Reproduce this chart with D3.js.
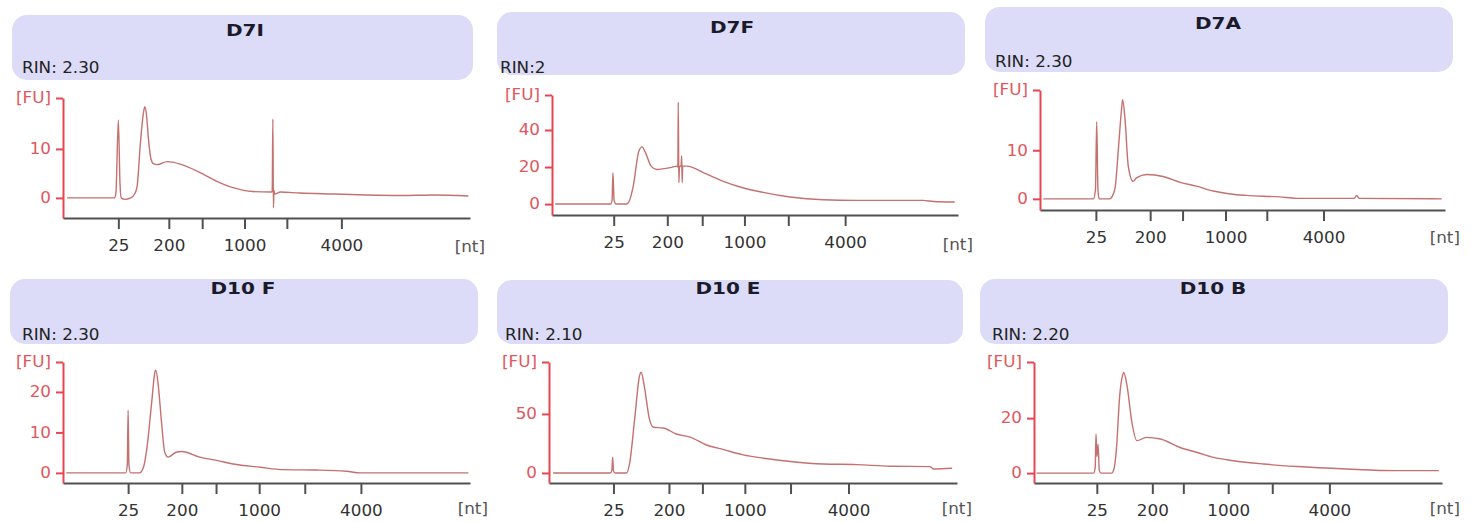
<!DOCTYPE html>
<html>
<head>
<meta charset="utf-8">
<script src="https://cdn.jsdelivr.net/npm/d3@7"></script>
<style>
  body { margin: 0; background: #fff; }
  svg { display: block; font-family: "DejaVu Sans", Verdana, sans-serif; }
</style>
</head>
<body>
<div id="chart"></div>
<script>
// sample names and RIN values
const sampleNames = ["D7I", "D7F", "D7A", "D10 F", "D10 E", "D10 B"];
const rinLabels = ["RIN: 2.30", "RIN:2", "RIN: 2.30", "RIN: 2.30", "RIN: 2.10", "RIN: 2.20"];

// ladder sizes (nt) and their labels on the x axis
const ladderSizes = [25, 200, 500, 1000, 2000, 4000];
const ladderLabels = ["25", "200", "", "1000", "", "4000"];

// migration time (s) of each ladder band, per sample (alignment differs a bit)
const ladderTimes = [
  [26.8, 33.0, 37.1, 42.3, 47.5, 54.2],
  [27.6, 34.2, 38.5, 43.7, 49.1, 56.1],
  [26.9, 33.6, 37.6, 42.9, 48.0, 55.0],
  [28.0, 34.6, 38.8, 44.1, 49.7, 56.6],
  [27.9, 34.7, 38.8, 44.0, 49.6, 56.7],
  [27.7, 34.5, 38.3, 43.8, 49.2, 56.2]
];

const timeRange = [20, 70];

// fluorescence axis: range and ticks per sample
const fuRange = [[-4.1, 20.4], [-5.9, 58.9], [-2.3, 22.4], [-2.5, 27.4], [-8.5, 94], [-3.6, 40.4]];
const fuTicks = [[0, 10], [0, 20, 40], [0, 10], [0, 10, 20], [0, 50], [0, 20]];

// electropherogram traces: [time (s), FU]
const traceD7I = [[20.5,0],[26.3,0],[26.5,1],[26.8,15.9],[27.0,3],[27.15,0],[27.6,-0.3],[28.3,0],[28.8,0.8],[29.1,2.3],[29.5,11],[29.85,17],[30.05,18.6],[30.25,17],[30.5,12],[30.8,8],[31.1,7],[31.6,6.8],[32.8,7.4],[34.4,6.9],[36.8,5.2],[38.9,3.4],[40.9,2.1],[43.3,1.3],[45.5,1.2],[45.7,1.3],[45.78,16.1],[45.85,-2],[45.92,1.5],[46.0,0.8],[46.7,1.2],[49.1,1.0],[53.2,0.8],[57.3,0.6],[61.4,0.5],[65.5,0.6],[69.8,0.4]];
const traceD7F = [[20.4,0],[27.2,0],[27.4,2],[27.5,16.9],[27.65,2],[27.9,0],[29.2,0],[29.5,1.5],[30.0,9.6],[30.7,28.7],[31.1,30.9],[31.5,27.9],[32.2,20.5],[32.9,18.7],[34.6,19.7],[35.4,20.5],[35.5,20],[35.55,55],[35.62,11.5],[35.7,20],[35.9,21],[35.97,26],[36.03,11.5],[36.1,20.5],[36.6,20.5],[38.7,16.9],[41.1,12.3],[43.6,8.7],[46.0,6.3],[49.3,3.8],[53.4,2.3],[57.5,2.0],[65.7,2.0],[67.0,1.4],[69.6,1.1]];
const traceD7A = [[20.4,0],[26.6,0],[26.85,2],[27.0,15.9],[27.15,2],[27.3,0],[28.6,0],[29.0,0.8],[29.3,2.6],[29.7,10.8],[30.1,19],[30.2,20.4],[30.5,16.3],[30.9,6.7],[31.5,3.6],[31.9,4.3],[33.2,5.0],[35.2,4.6],[37.3,3.4],[39.3,2.6],[41.4,1.6],[43.5,1.0],[45.5,0.7],[49.6,0.4],[51.7,0.1],[58.8,0.1],[59.1,0.7],[59.4,0.1],[69.6,0]];
const traceD10F = [[20.4,0],[27.7,0],[27.9,2],[28.0,15.5],[28.1,2],[28.3,0],[29.4,0],[29.9,1.5],[30.3,6],[30.9,17.5],[31.3,25],[31.4,25.4],[31.7,21.7],[32.1,12.6],[32.5,5.1],[32.9,3.9],[33.9,5.1],[34.6,5.3],[36.8,3.9],[38.9,3.1],[40.9,2.2],[44.2,1.4],[47.0,0.8],[51.2,0.7],[54.8,0.4],[56.5,0],[69.8,0]];
const traceD10E = [[20.5,0],[27.5,0],[27.7,2],[27.8,13.3],[27.9,2],[28.1,0],[29.5,0],[29.9,9],[30.5,45.8],[31.1,82.5],[31.3,85.3],[31.7,72.6],[32.3,45.8],[32.8,38.7],[34.0,38.1],[35.6,33],[37.3,30.3],[39.3,23.7],[41.4,19.8],[43.8,15.3],[46.3,12.5],[49.6,9.7],[53.6,7.6],[57.7,7.1],[61.8,5.7],[66.7,5.4],[67.1,3.4],[69.4,4]];
const traceD10B = [[20.3,0],[27.3,0],[27.5,2],[27.6,14.2],[27.7,6],[27.85,10.5],[28.0,1],[28.2,0],[29.5,0],[29.8,1.5],[30.1,8.7],[30.5,28.1],[30.9,36],[31.0,36.6],[31.4,31.8],[32.0,18.4],[32.6,11.8],[33.8,13],[35.5,12.4],[37.9,9.3],[40.0,7.5],[42.0,5.7],[44.4,4.5],[48.1,3.3],[52.2,2.4],[58.3,1.5],[64.5,0.9],[69.6,0.9]];
const traces = [traceD7I, traceD7F, traceD7A, traceD10F, traceD10E, traceD10B];

// page layout of each panel (header pill, title, RIN label, plot box)
const layout = [
  {pill: [12, 15, 461, 65], title: [245, 30], rin: [22, 68], plot: [63, 470, 98, 218], nt: [485, 247]},
  {pill: [497, 12, 468, 63], title: [732, 27], rin: [500, 68], plot: [552, 958, 95, 215], nt: [973, 245]},
  {pill: [985, 7, 468, 65], title: [1218, 23], rin: [995, 62], plot: [1040, 1445, 90, 210], nt: [1460, 238]},
  {pill: [10, 279, 468, 65], title: [243, 288], rin: [22, 335], plot: [63, 470, 362, 483], nt: [488, 509]},
  {pill: [497, 280, 466, 64], title: [728, 288], rin: [505, 335], plot: [549, 957, 362, 483], nt: [972, 509]},
  {pill: [980, 279, 468, 65], title: [1213, 288], rin: [992, 335], plot: [1034, 1442, 362, 483], nt: [1460, 509]}
];

const W = 1474, H = 522;
const sx = 1.12; // text in the source is a bit stretched horizontally
const redAxis = "#e4474f", redText = "#e0585e", traceCol = "#c4716f", grayAxis = "#505050";

const svg = d3.select("#chart").append("svg")
    .attr("width", W)
    .attr("height", H);

function stretchedText(g, x, y, str, k) {
  return g.append("text")
      .attr("transform", "translate(" + x + "," + y + ") scale(" + (k || sx) + ",1)")
      .text(str);
}

sampleNames.forEach(function(name, i) {
  const L = layout[i];
  const g = svg.append("g");

  // header pill
  g.append("rect")
      .attr("x", L.pill[0]).attr("y", L.pill[1])
      .attr("width", L.pill[2]).attr("height", L.pill[3])
      .attr("rx", 15)
      .attr("fill", "#dcdcf8");

  stretchedText(g, L.title[0], L.title[1], name, 1.25)
      .attr("text-anchor", "middle")
      .attr("dominant-baseline", "central")
      .attr("font-weight", "bold")
      .attr("font-size", "16px")
      .attr("fill", "#1a1a2a");

  stretchedText(g, L.rin[0], L.rin[1], rinLabels[i])
      .attr("dominant-baseline", "central")
      .attr("font-size", "15px")
      .attr("fill", "#222");

  const [x0, x1, yTop, yBot] = L.plot;
  const x = d3.scaleLinear().domain(timeRange).range([x0, x1]);
  const y = d3.scaleLinear().domain(fuRange[i]).range([yBot, yTop]);

  // trace
  const line = d3.line()
      .curve(d3.curveMonotoneX)
      .x(function(d) { return x(d[0]); })
      .y(function(d) { return y(d[1]); });

  g.append("path")
      .datum(traces[i])
      .attr("d", line)
      .attr("fill", "none")
      .attr("stroke", traceCol)
      .attr("stroke-width", 1.4)
      .attr("stroke-linejoin", "round");

  // x axis (ladder)
  const xAxis = g.append("g")
      .attr("transform", "translate(0," + yBot + ")")
      .call(d3.axisBottom(x)
          .tickValues(ladderTimes[i])
          .tickFormat(function(d, j) { return ladderLabels[j]; })
          .tickSize(11)
          .tickSizeOuter(0)
          .tickPadding(11));
  xAxis.select(".domain").attr("stroke", grayAxis).attr("stroke-width", 2);
  xAxis.selectAll(".tick line").attr("stroke", grayAxis).attr("stroke-width", 2).attr("y1", 1);
  xAxis.selectAll(".tick text")
      .attr("fill", "#333")
      .attr("font-size", "15px")
      .attr("font-family", "DejaVu Sans, Verdana, sans-serif")
      .attr("transform", "scale(" + sx + ",1)");

  stretchedText(g, L.nt[0], L.nt[1], "[nt]")
      .attr("text-anchor", "end")
      .attr("dominant-baseline", "central")
      .attr("font-size", "15px")
      .attr("fill", "#555");

  // y axis (fluorescence)
  const top = fuRange[i][1];
  const yAxis = g.append("g")
      .attr("transform", "translate(" + x0 + ",0)")
      .call(d3.axisLeft(y)
          .tickValues(fuTicks[i].concat([top]))
          .tickFormat(function(d) { return d === top ? "[FU]" : d; })
          .tickSize(7)
          .tickSizeOuter(0)
          .tickPadding(3));
  yAxis.select(".domain").attr("stroke", redAxis).attr("stroke-width", 2);
  yAxis.selectAll(".tick line").attr("stroke", redAxis).attr("stroke-width", 2);
  yAxis.selectAll(".tick text")
      .attr("fill", redText)
      .attr("font-size", "15px")
      .attr("font-family", "DejaVu Sans, Verdana, sans-serif")
      .attr("transform", "translate(-2,0) scale(" + sx + ",1)")
      .attr("x", -10 / sx);
});
</script>
</body>
</html>
